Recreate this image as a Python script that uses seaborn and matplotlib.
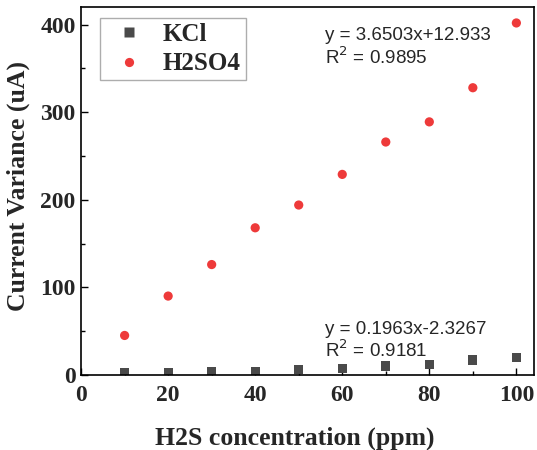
import matplotlib
matplotlib.use("Agg")
import matplotlib.pyplot as plt
import pandas as pd
import seaborn as sns
from matplotlib.ticker import MultipleLocator

# data
concentration = [10, 20, 30, 40, 50, 60, 70, 80, 90, 100]
kcl = [2, 2.5, 3.5, 4, 6, 7, 10, 12, 17, 20]
h2so4 = [45, 90, 126, 168, 194, 229, 266, 289, 328, 402]
series_names = ["KCl", "H2SO4"]
fit_texts = ["y = 0.1963x-2.3267\nR$^2$ = 0.9181", "y = 3.6503x+12.933\nR$^2$ = 0.9895"]

df = pd.DataFrame({
    "conc": concentration * 2,
    "value": kcl + h2so4,
    "series": ["KCl"] * len(kcl) + ["H2SO4"] * len(h2so4),
})

sns.set_theme(style="ticks")
plt.rcParams["font.family"] = ["Liberation Serif", "DejaVu Serif"]

fig = plt.figure(figsize=(5.37, 4.5), dpi=100)
ax = fig.add_axes([0.151, 0.167, 0.843, 0.817])

sns.scatterplot(
    data=df, x="conc", y="value", hue="series", style="series",
    hue_order=series_names, style_order=series_names,
    palette={"KCl": "#4a4a4a", "H2SO4": "#ee3a3a"},
    markers={"KCl": "s", "H2SO4": "o"},
    s=44, edgecolor="none", ax=ax,
)

ax.set_xlim(0, 104)
ax.set_ylim(0, 420)
ax.xaxis.set_major_locator(MultipleLocator(20))
ax.xaxis.set_minor_locator(MultipleLocator(10))
ax.yaxis.set_major_locator(MultipleLocator(100))
ax.yaxis.set_minor_locator(MultipleLocator(50))
ax.tick_params(which="both", direction="in", top=False, right=False, color="black")
ax.tick_params(which="major", length=5, width=1, labelsize=17)
ax.tick_params(which="minor", length=3, width=1)
ax.tick_params(axis="x", which="major", pad=7)
ax.tick_params(axis="y", which="major", pad=4)
for lab in ax.get_xticklabels() + ax.get_yticklabels():
    lab.set_fontweight("bold")
for sp in ax.spines.values():
    sp.set_visible(True)
    sp.set_color("black")
    sp.set_linewidth(1.2)

ax.set_xlabel("H2S concentration (ppm)", fontsize=18.5, fontweight="bold")
ax.set_ylabel("Current Variance (uA)", fontsize=18.5, fontweight="bold")
ax.xaxis.set_label_coords(0.472, -0.141)
ax.yaxis.set_label_coords(-0.113, 0.513)

leg = ax.legend(loc="upper left", bbox_to_anchor=(0.042, 0.970), borderaxespad=0,
                frameon=True, fancybox=False,
                prop={"family": "Liberation Serif", "weight": "bold", "size": 18},
                handlelength=1.9, handletextpad=0.4, borderpad=0.2, labelspacing=0.25)
leg.get_frame().set_edgecolor("#999999")
leg.get_frame().set_linewidth(1)

ax.text(56, 39, fit_texts[0], fontsize=13.5, family="Liberation Sans", va="center", linespacing=1.1)
ax.text(56, 374, fit_texts[1], fontsize=13.5, family="Liberation Sans", va="center", linespacing=1.1)

fig.savefig("out.png", dpi=100)
